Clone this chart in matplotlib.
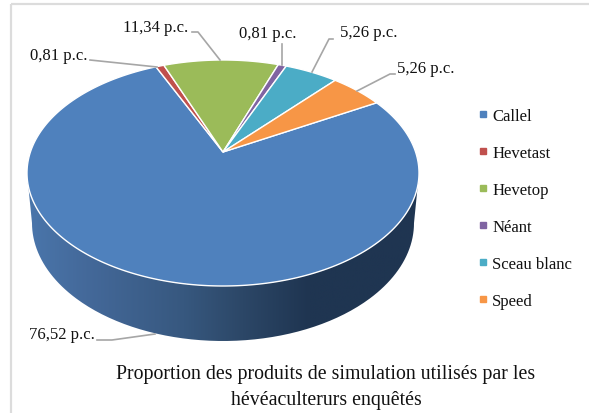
import matplotlib
matplotlib.use("Agg")
import matplotlib.pyplot as plt
import numpy as np
from matplotlib.colors import LinearSegmentedColormap
from matplotlib.lines import Line2D
from matplotlib.patches import PathPatch, Rectangle
from matplotlib.path import Path

plt.rcParams["font.family"] = ["Liberation Serif", "DejaVu Serif"]

products = ["Callel", "Hevetast", "Hevetop", "Néant", "Sceau blanc", "Speed"]
shares = [76.52, 0.81, 11.34, 0.81, 5.26, 5.26]
share_labels = ["76,52 p.c.", "0,81 p.c.", "11,34 p.c.", "0,81 p.c.", "5,26 p.c.", "5,26 p.c."]
colors = ["#4f81bd", "#c0504d", "#9bbb59", "#8064a2", "#4bacc6", "#f79646"]
title = "Proportion des produits de simulation utilisés par les\nhévéaculterurs enquêtés"

# pie geometry in image pixels (tilted disc, apex sits above the ellipse centre)
CX, CY = 223.0, 174.0
RX, RY = 196.0, 113.0
APEX_UP = 21.0
START_ANGLE = 60.5
# lower rim is a little narrower than the top face
BOTTOM_CY, BOTTOM_RX, BOTTOM_RY = 224.0, 191.0, 118.0


def project(theta):
    # theta is clockwise from the top of the disc, in radians
    k = APEX_UP / RY * 1.0
    u, v = np.sin(theta), np.cos(theta)
    den = 1 + k * v
    x = CX + RX * np.sqrt(1 - k ** 2) * u / den
    y = CY - (RY * v + APEX_UP) / den
    return x, y


fig = plt.figure(figsize=(5.89, 4.14), dpi=100)
ax = fig.add_axes([0, 0, 1, 1])
ax.set_xlim(0, 589)
ax.set_ylim(414, 0)
ax.axis("off")

ax.add_patch(Rectangle((11, 5), 700, 500, fill=False, edgecolor="#dcdcdc", linewidth=1.6))

# side wall, only the front half of the rim shows
t = np.linspace(np.pi / 2, 3 * np.pi / 2, 200)
top_x = CX + RX * np.sin(t)
top_y = CY - RY * np.cos(t)
bottom_x = CX + BOTTOM_RX * np.sin(t)
bottom_y = BOTTOM_CY - BOTTOM_RY * np.cos(t)
wall = np.column_stack([np.r_[top_x, bottom_x[::-1]], np.r_[top_y, bottom_y[::-1]]])
wall_patch = PathPatch(Path(np.vstack([wall, wall[0]])), facecolor="none", edgecolor="none")
ax.add_patch(wall_patch)
wall_cmap = LinearSegmentedColormap.from_list(
    "wall",
    [(0.0, "#4a76ab"), (0.15, "#44699a"), (0.4, "#37587f"), (0.55, "#2c4767"), (0.72, "#1f3551"), (1.0, "#1f3551")],
)
grad = ax.imshow(
    np.linspace(0, 1, 256).reshape(1, -1),
    extent=(CX - RX, CX + RX, BOTTOM_CY + BOTTOM_RY, CY),
    cmap=wall_cmap,
    aspect="auto",
    zorder=1,
)
grad.set_clip_path(wall_patch)
ax.set_xlim(0, 589)
ax.set_ylim(414, 0)

# top face
apex = (CX, CY - APEX_UP)
angle = np.deg2rad(START_ANGLE)
for share, color in zip(shares, colors):
    sweep = 2 * np.pi * share / sum(shares)
    arc = np.linspace(angle, angle + sweep, max(int(share * 6), 12))
    x, y = project(arc)
    ax.fill(np.r_[apex[0], x], np.r_[apex[1], y], facecolor=color, edgecolor="white", linewidth=1.0, zorder=3)
    angle += sweep

# data labels with leader lines
label_pos = [(29, 335), (30, 56), (123, 28), (239, 34), (340, 33), (397, 69)]
leaders = [
    [(97, 341), (112, 341), (155, 335)],
    [(90, 61), (157, 68)],
    [(192, 33), (198, 33), (220, 61)],
    [(282, 45), (282, 66)],
    [(333, 40), (329, 40), (312, 73)],
    [(395, 75), (390, 75), (357, 92)],
]
for text, (lx, ly), pts in zip(share_labels, label_pos, leaders):
    ax.text(lx, ly, text, fontsize=12, color="#111111", ha="left", va="center", zorder=5)
    ax.plot(*zip(*pts), color="#a6a6a6", linewidth=1.2, zorder=4)

handles = [
    Line2D([], [], linestyle="none", marker="s", markersize=3.8, color=c, label=p)
    for p, c in zip(products, colors)
]
ax.legend(
    handles=handles,
    loc="upper left",
    bbox_to_anchor=(0.7975, 0.7565),
    frameon=False,
    fontsize=12,
    labelspacing=1.26,
    handlelength=0.6,
    handletextpad=0.25,
    borderpad=0,
    labelcolor="#111111",
)

ax.text(326, 388, title, fontsize=14.3, color="#111111", ha="center", va="center", linespacing=1.5, zorder=5)

fig.savefig("out.png", dpi=100)
plt.close(fig)
